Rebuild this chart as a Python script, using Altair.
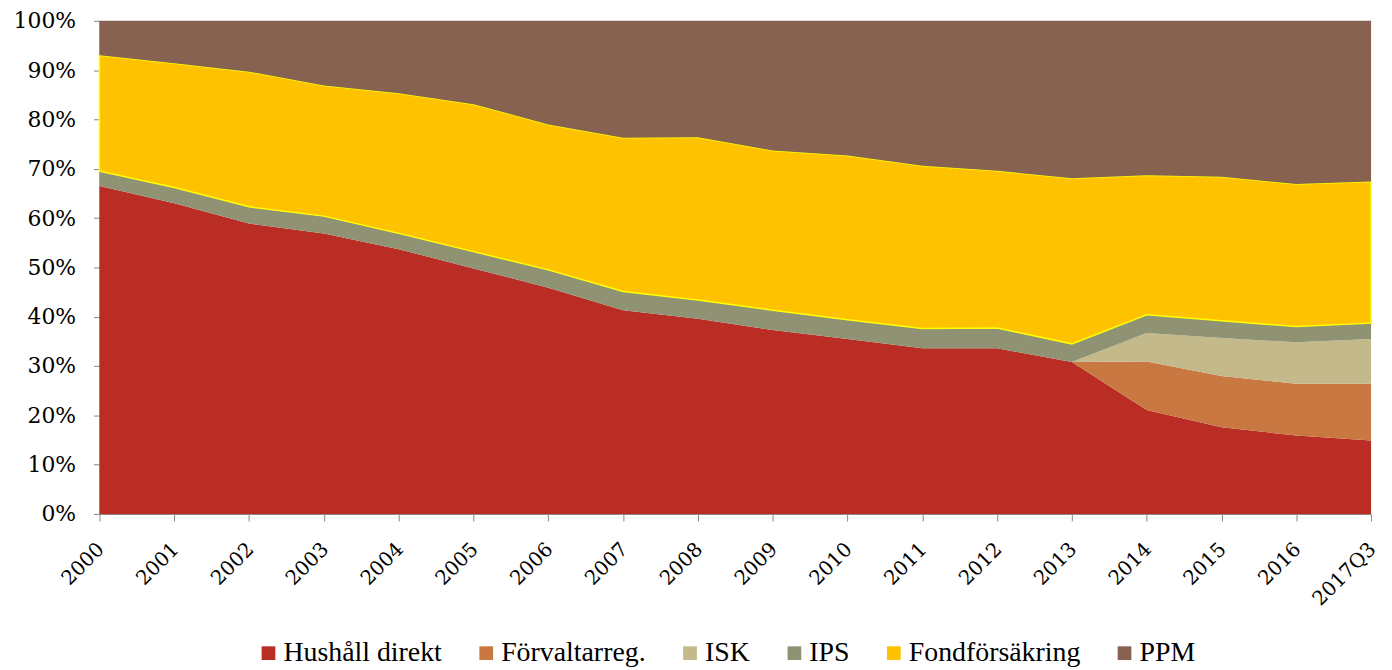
import altair as alt
import pandas as pd

years = ["2000", "2001", "2002", "2003", "2004", "2005", "2006", "2007", "2008",
         "2009", "2010", "2011", "2012", "2013", "2014", "2015", "2016", "2017Q3"]

series_names = ["Hushåll direkt", "Förvaltarreg.", "ISK", "IPS", "Fondförsäkring", "PPM"]
series_colors = ["#B92D25", "#C97841", "#C4B98A", "#8F9373", "#FEC200", "#876251"]

hushall = [66.5, 63.0, 58.9, 56.9, 53.7, 49.8, 45.9, 41.3, 39.6, 37.3, 35.5, 33.6, 33.6, 30.8, 21.1, 17.6, 15.9, 14.9]
forvaltarreg = [0, 0, 0, 0, 0, 0, 0, 0, 0, 0, 0, 0, 0, 0, 9.8, 10.4, 10.5, 11.5]
isk = [0, 0, 0, 0, 0, 0, 0, 0, 0, 0, 0, 0, 0, 0, 5.8, 7.7, 8.4, 9.1]
ips = [3.0, 3.2, 3.4, 3.5, 3.2, 3.4, 3.6, 3.8, 3.8, 4.0, 3.9, 4.0, 4.1, 3.7, 3.7, 3.5, 3.2, 3.2]
fondforsakring = [23.5, 25.2, 27.4, 26.5, 28.4, 29.9, 29.5, 31.2, 33.0, 32.4, 33.3, 33.0, 31.9, 33.6, 28.3, 29.2, 28.9, 28.7]
ppm = [7.0, 8.6, 10.3, 13.1, 14.7, 16.9, 21.0, 23.7, 23.6, 26.3, 27.3, 29.4, 30.4, 31.9, 31.3, 31.6, 33.1, 32.6]

all_values = [hushall, forvaltarreg, isk, ips, fondforsakring, ppm]

rows = []
for idx, (name, vals) in enumerate(zip(series_names, all_values)):
    for yr, v in zip(years, vals):
        rows.append({"year": yr, "serie": name, "value": v, "idx": idx})
df = pd.DataFrame(rows)

FONT = "DejaVu Serif"

chart = alt.Chart(df).mark_area(opacity=1, strokeWidth=1.5, interpolate="linear").encode(
    x=alt.X("year:N", sort=years, scale=alt.Scale(type="point", padding=0),
            axis=alt.Axis(title=None, labelAngle=-45, labelFont=FONT, labelFontSize=20,
                          labelColor="#000000", domainColor="#868686", tickColor="#868686",
                          tickSize=7, labelPadding=18, labelOffset=-6, grid=False,
                          labelOverlap=False, labelLimit=200)),
    y=alt.Y("value:Q", stack="zero", scale=alt.Scale(domain=[0, 100], nice=False),
            axis=alt.Axis(title=None, values=list(range(0, 101, 10)), labelExpr="datum.value + '%'",
                          labelFont=FONT, labelFontSize=22, labelColor="#000000",
                          domainColor="#868686", tickColor="#868686", tickSize=6, grid=False,
                          labelPadding=18)),
    color=alt.Color("serie:N", sort=series_names,
                    scale=alt.Scale(domain=series_names, range=series_colors),
                    legend=alt.Legend(title=None, orient="none", legendX=156, legendY=622,
                                      direction="horizontal",
                                      symbolType="square", symbolSize=190, symbolStrokeWidth=0,
                                      labelFont="Liberation Serif", labelFontSize=28, labelOffset=1,
                                      labelLimit=400, labelColor="#000000", columnPadding=30)),
    stroke=alt.condition("datum.serie == 'Fondförsäkring'", alt.value("#FFFF00"), alt.value("transparent")),
    order=alt.Order("idx:Q", sort="ascending"),
).properties(
    width=1279, height=496,
    autosize=alt.AutoSizeParams(type="none"),
    padding={"left": 92, "top": 11, "right": 13, "bottom": 155},
).configure_view(stroke=None)

chart.save("out.html", embed_options={"renderer": "svg", "actions": False})
